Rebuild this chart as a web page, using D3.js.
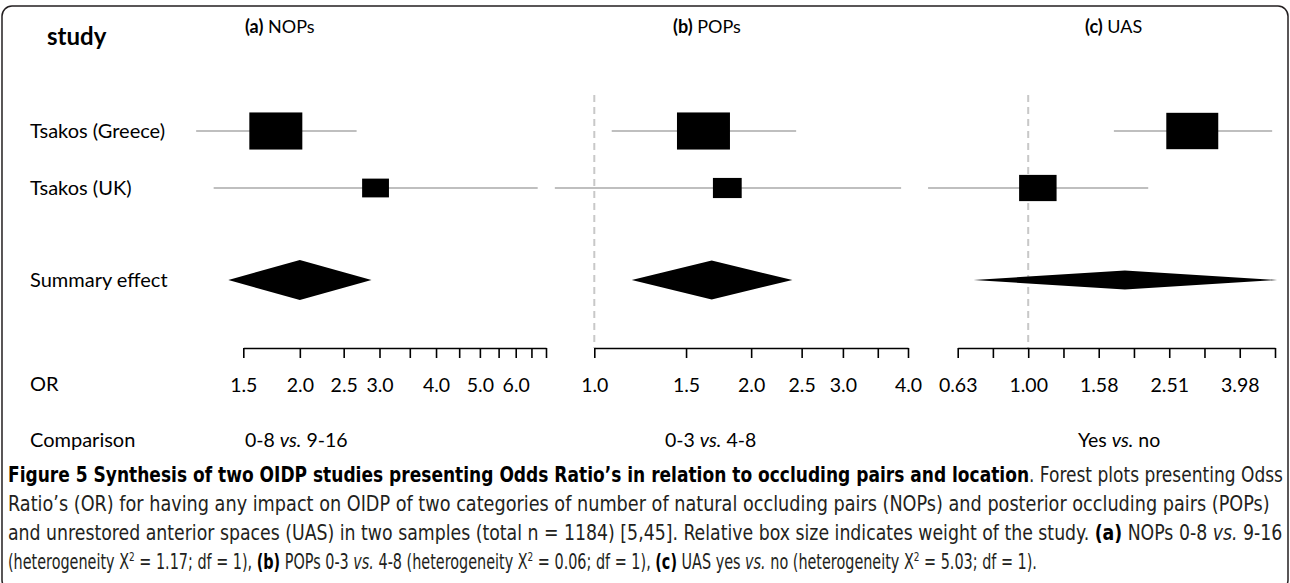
<!DOCTYPE html>
<html>
<head>
<meta charset="utf-8">
<script src="https://cdn.jsdelivr.net/npm/d3@7"></script>
<style>
  body { margin: 0; background: #fff; }
  svg { display: block; }
</style>
</head>
<body>
<script>
//## Data

const studies = ["Tsakos (Greece)", "Tsakos (UK)"];
const summaryLabel = "Summary effect";

const panelTags = ["(a)", "(b)", "(c)"];
const panelNames = ["NOPs", "POPs", "UAS"];
const comparisons = [["0-8", "9-16"], ["0-3", "4-8"], ["Yes", "no"]];

// odds ratio per panel, one value per study
const orEstimate = [[1.77, 2.94], [1.62, 1.80], [2.92, 1.065]];
const orLower = [[1.18, 1.29], [1.08, 0.84], [1.75, 0.52]];
const orUpper = [[2.67, 6.71], [2.44, 3.88], [4.92, 2.19]];
const studyWeight = [[0.78, 0.20], [0.78, 0.23], [0.75, 0.39]];

const summaryEstimate = [2.0, 1.68, 1.88];
const summaryLower = [1.39, 1.18, 0.70];
const summaryUpper = [2.88, 2.40, 5.08];

const axisDomains = [[1.5, 7], [1, 4], [0.631, 5.012]];
const tickValues = [
  [1.5, 2, 2.5, 3, 3.5, 4, 4.5, 5, 5.5, 6, 6.5, 7],
  [1, 1.5, 2, 2.5, 3, 3.5, 4],
  [0.631, 0.794, 1, 1.259, 1.585, 1.995, 2.512, 3.162, 3.981, 5.012]
];
const tickLabels = [
  ["1.5", "2.0", "2.5", "3.0", "", "4.0", "", "5.0", "", "6.0", "", ""],
  ["1.0", "1.5", "2.0", "2.5", "3.0", "", "4.0"],
  ["0.63", "", "1.00", "", "1.58", "", "2.51", "", "3.98", ""]
];

const captionLines = [
  [["Figure 5 Synthesis of two OIDP studies presenting Odds Ratio’s in relation to occluding pairs and location", "b"],
   [". Forest plots presenting Odss", ""]],
  [["Ratio’s (OR) for having any impact on OIDP of two categories of number of natural occluding pairs (NOPs) and posterior occluding pairs (POPs)", ""]],
  [["and unrestored anterior spaces (UAS) in two samples (total n = 1184) [5,45]. Relative box size indicates weight of the study. ", ""],
   ["(a)", "b"], [" NOPs 0-8 ", ""], ["vs.", "i"], [" 9-16", ""]],
  [["(heterogeneity X", ""], ["2", "sup"], [" = 1.17; df = 1), ", ""], ["(b)", "b"], [" POPs 0-3 ", ""], ["vs.", "i"],
   [" 4-8 (heterogeneity X", ""], ["2", "sup"], [" = 0.06; df = 1), ", ""], ["(c)", "b"], [" UAS yes ", ""], ["vs.", "i"],
   [" no (heterogeneity X", ""], ["2", "sup"], [" = 5.03; df = 1).", ""]]
];


//## Layout

const width = 1290, height = 583;
const chartFont = "Lato, 'Open Sans', sans-serif";
const captionFont = "'Liberation Sans Narrow', 'DejaVu Sans Condensed', sans-serif";
const fontSize = 20;

const panelRange = [[243.3, 546], [594.3, 908], [957.7, 1275]];
const titleX = [245, 673, 1085];
const compX = [245, 665, 1078];
const diamondHalf = [20, 19.5, 9.5];
const captionWidth = [1275, 1262, 1275, 1030];

const rowY = d3.scaleOrdinal()
  .domain([...studies, summaryLabel])
  .range([131, 188, 280]);
const axisY = 348;
const orY = 391;
const compY = 447;

const svg = d3.select("body").append("svg")
  .attr("width", width)
  .attr("height", height)
  .style("font-family", chartFont);

// frame
svg.append("rect")
  .attr("x", 2).attr("y", 6)
  .attr("width", 1286).attr("height", 584)
  .attr("rx", 10)
  .attr("fill", "none")
  .attr("stroke", "#231f20")
  .attr("stroke-width", 1.5);


//## Left column

svg.append("text")
  .attr("x", 47).attr("y", 45)
  .style("font-size", "24px").style("font-weight", "bold")
  .text("study");

svg.selectAll("text.row")
  .data([...studies, summaryLabel])
  .join("text")
  .attr("class", "row")
  .attr("x", 30)
  .attr("y", (d) => rowY(d))
  .attr("dy", "0.35em")
  .style("font-size", fontSize + "px")
  .text((d) => d);

svg.append("text").attr("x", 30).attr("y", orY)
  .style("font-size", fontSize + "px").text("OR");
svg.append("text").attr("x", 30).attr("y", compY)
  .style("font-size", fontSize + "px").text("Comparison");


//## Panels

panelNames.forEach((name, i) => {
  const x = d3.scaleLog().domain(axisDomains[i]).range(panelRange[i]);
  const g = svg.append("g");

  // title
  const title = g.append("text").attr("x", titleX[i]).attr("y", 33)
    .style("font-size", "18px");
  title.append("tspan").style("font-weight", "bold").text(panelTags[i]);
  title.append("tspan").text(" " + name);

  // no-effect line
  if (axisDomains[i][0] <= 1) {
    g.append("line")
      .attr("x1", x(1)).attr("x2", x(1))
      .attr("y1", 95).attr("y2", axisY)
      .attr("stroke", "#c8c8c8")
      .attr("stroke-width", 2)
      .attr("stroke-dasharray", "7,5");
  }

  // confidence intervals
  g.selectAll("line.ci")
    .data(studies)
    .join("line")
    .attr("class", "ci")
    .attr("x1", (d, j) => x(orLower[i][j]))
    .attr("x2", (d, j) => x(orUpper[i][j]))
    .attr("y1", (d) => rowY(d))
    .attr("y2", (d) => rowY(d))
    .attr("stroke", "#bfbfbf")
    .attr("stroke-width", 2);

  // boxes sized by weight
  const boxW = (j) => 60 * Math.sqrt(studyWeight[i][j]);
  g.selectAll("rect.box")
    .data(studies)
    .join("rect")
    .attr("class", "box")
    .attr("x", (d, j) => x(orEstimate[i][j]) - boxW(j) / 2)
    .attr("y", (d, j) => rowY(d) - boxW(j) * 0.35)
    .attr("width", (d, j) => boxW(j))
    .attr("height", (d, j) => boxW(j) * 0.7)
    .attr("fill", "#000");

  // summary diamond
  const sy = rowY(summaryLabel);
  const h = diamondHalf[i];
  g.append("polygon")
    .attr("points", [
      [x(summaryLower[i]), sy],
      [x(summaryEstimate[i]), sy - h],
      [x(summaryUpper[i]), sy],
      [x(summaryEstimate[i]), sy + h]
    ].join(" "))
    .attr("fill", "#000");

  // axis
  const axis = g.append("g")
    .attr("transform", `translate(0,${axisY})`)
    .call(
      d3.axisBottom(x)
        .tickValues(tickValues[i])
        .tickFormat((d, j) => tickLabels[i][j])
        .tickSize(10)
        .tickSizeOuter(0)
        .tickPadding(20)
    );
  axis.attr("font-family", null).attr("font-size", null);
  axis.selectAll("path, line").attr("stroke", "#000").attr("stroke-width", 1.6);
  axis.selectAll("text").attr("fill", "#000").style("font-size", "19.5px");

  // comparison
  const comp = g.append("text").attr("x", compX[i]).attr("y", compY)
    .style("font-size", "19.5px");
  comp.append("tspan").text(comparisons[i][0] + " ");
  comp.append("tspan").style("font-style", "italic").text("vs.");
  comp.append("tspan").text(" " + comparisons[i][1]);
});


//## Caption

captionLines.forEach((segments, k) => {
  const line = svg.append("g")
    .attr("transform", `translate(8,${482 + k * 29})`);
  const text = line.append("text")
    .attr("fill", "#231f20")
    .style("font-family", captionFont)
    .style("font-size", "21px");
  let shift = 0;
  segments.forEach(([s, kind]) => {
    const t = text.append("tspan").text(s);
    if (kind === "b") t.style("font-weight", "bold").attr("fill", "#000");
    if (kind === "i") t.style("font-style", "italic");
    if (kind === "sup") {
      t.style("font-size", "13px").attr("dy", -8);
      shift = 8;
    } else if (shift) {
      t.attr("dy", shift);
      shift = 0;
    }
  });
  const natural = text.node().getComputedTextLength();
  text.attr("transform", `scale(${captionWidth[k] / natural},1)`);
});
</script>
</body>
</html>
